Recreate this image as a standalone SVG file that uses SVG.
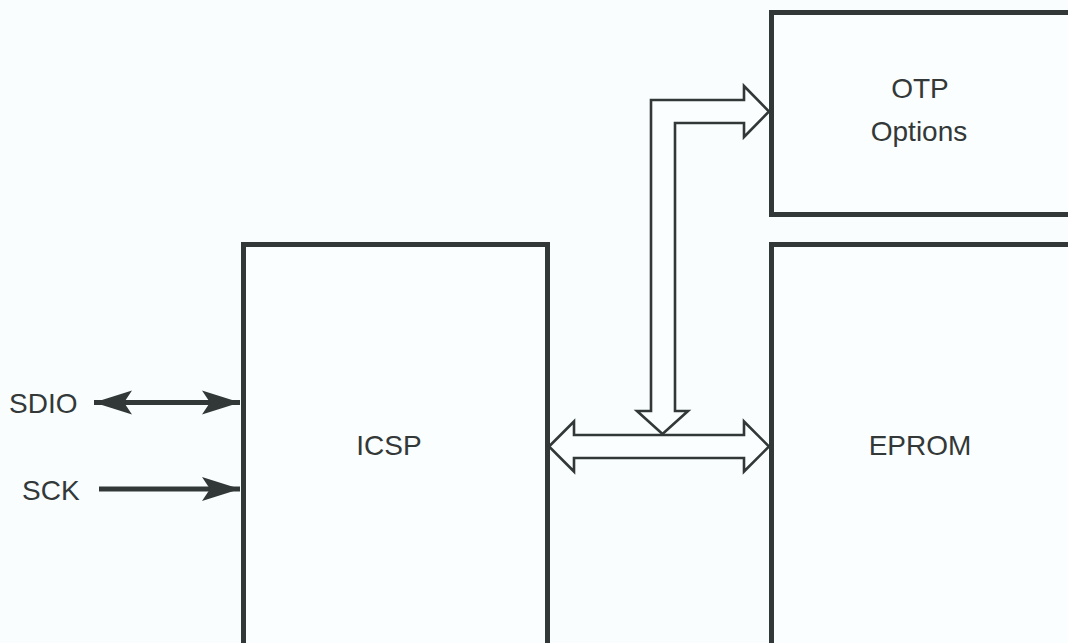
<svg xmlns="http://www.w3.org/2000/svg" width="1068" height="643" viewBox="0 0 1068 643">
<defs>
<style>
.box{fill:#fbfefe;stroke:#323838;stroke-width:5}
.lbl{font-family:"Liberation Sans",Arial,sans-serif;font-size:28px;fill:#333838}
.hollow{fill:#fbfefe;stroke:#323838;stroke-width:2.6;stroke-linejoin:miter}
.sig{stroke:#323838;stroke-width:5;fill:none}
</style>
<marker id="ah" viewBox="0 0 40 26" refX="40" refY="13" markerWidth="40" markerHeight="26" markerUnits="userSpaceOnUse" orient="auto-start-reverse">
<path d="M40,13 L2,1 L10,13 L2,25 Z" fill="#323838"/>
</marker>
</defs>
<rect width="1068" height="643" fill="#f9fdfd"/>
<g id="icsp">
<rect class="box" x="243.5" y="244.5" width="304" height="500"/>
<text class="lbl" x="389" y="455" text-anchor="middle">ICSP</text>
</g>
<g id="eprom">
<rect class="box" x="771.5" y="244.5" width="400" height="500"/>
<text class="lbl" x="920" y="455" text-anchor="middle">EPROM</text>
</g>
<g id="otp">
<rect class="box" x="771.5" y="12.5" width="400" height="202"/>
<text class="lbl" x="920" y="98" text-anchor="middle">OTP</text>
<text class="lbl" x="919" y="141" text-anchor="middle">Options</text>
</g>
<g id="sdio">
<text class="lbl" x="9" y="413">SDIO</text>
</g>
<g id="sck">
<text class="lbl" x="22" y="500">SCK</text>
</g>
<g id="connectors">
<line class="sig" x1="94" y1="402.5" x2="240" y2="402.5" marker-start="url(#ah)" marker-end="url(#ah)"/>
<line class="sig" x1="99" y1="489" x2="240" y2="489" marker-end="url(#ah)"/>
<polygon class="hollow" points="549,446.5 574,421.5 574,435 744,435 744,421.5 769,446.5 744,471.5 744,458 574,458 574,471.5"/>
<polygon class="hollow" points="651,411 651,100 744,100 744,86 769,111.5 744,137 744,123 675,123 675,411 688,411 662.5,434 637,411"/>
</g>
</svg>
